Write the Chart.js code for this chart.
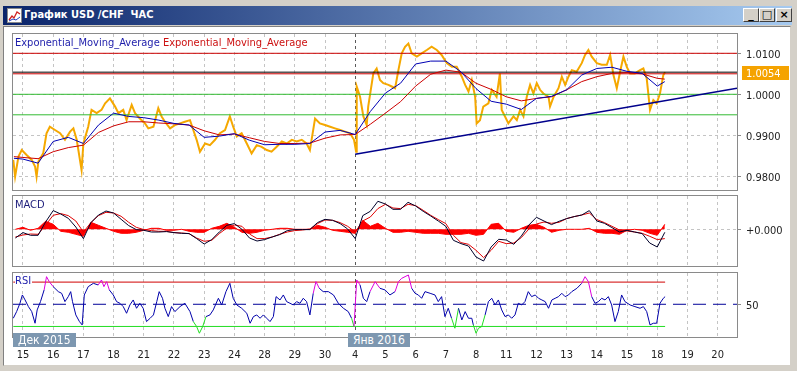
<!DOCTYPE html>
<html>
<head>
<meta charset="utf-8">
<script src="https://cdn.jsdelivr.net/npm/chart.js@4.4.1/dist/chart.umd.min.js"></script>
<style>
  body { margin: 0; width: 797px; height: 371px; overflow: hidden; background: #d4d0c8; position: relative;
         font-family: "DejaVu Sans Condensed", "DejaVu Sans", sans-serif; }
  #title { position: absolute; left: 3px; top: 6px; width: 789px; height: 19px;
           background: linear-gradient(to right, #0a246a, #a6caf0); }
  #icon { position: absolute; left: 4px; top: 2px; width: 15px; height: 15px; }
  #ttext { position: absolute; left: 21px; top: 2px; color: #fff; font-weight: bold; font-size: 11px; white-space: pre; }
  .btn { position: absolute; top: 2px; width: 16px; height: 14px; background: #d4d0c8; box-sizing: border-box;
         border: 1px solid; border-color: #fff #404040 #404040 #fff; font: bold 11px "DejaVu Sans", sans-serif;
         line-height: 11px; text-align: center; color: #000; }
  #client { position: absolute; left: 3px; top: 26px; width: 788px; height: 340px; background: #fff;
            box-sizing: border-box; border: 1px solid; border-color: #808080 #d4d0c8 #d4d0c8 #808080; }
  canvas { position: absolute; left: 0; top: 0; }
  .lbl { position: absolute; font-size: 11px; line-height: 12px; white-space: pre; background: #fff; padding-right: 1px; }
  .yr { position: absolute; top: 333px; height: 14px; background: #7d97b0; color: #fff; font-size: 12px;
        line-height: 14px; padding: 0 5px; }
</style>
</head>
<body>
<div id="title">
  <svg id="icon" viewBox="0 0 15 15"><rect x="0.5" y="0.5" width="14" height="14" fill="#fff" stroke="#8a8a8a"/>
    <polyline points="2,12 5,8 7,10 10,4 13,6" fill="none" stroke="#d02020" stroke-width="1.3"/>
    <polyline points="2,13 6,11 9,12 13,9" fill="none" stroke="#2040c0" stroke-width="1"/></svg>
  <div id="ttext">График USD /CHF  ЧАС</div>
  <div class="btn" style="left:740px">_</div>
  <div class="btn" style="left:756px">□</div>
  <div class="btn" style="left:773px">×</div>
</div>
<div id="client"></div>
<canvas id="main" width="797" height="371"></canvas>
<canvas id="macd" width="797" height="371"></canvas>
<canvas id="rsi" width="797" height="371"></canvas>
<div class="lbl" style="left:15px;top:37px"><span style="color:#1c1caa">Exponential_Moving_Average</span> <span style="color:#cc1111">Exponential_Moving_Average</span></div>
<div class="lbl" style="left:15px;top:199px;color:#1c1c7a">MACD</div>
<div class="lbl" style="left:15px;top:275px;color:#1c1caa">RSI</div>
<div class="yr" style="left:13px">Дек 2015</div>
<div class="yr" style="left:348px">Янв 2016</div>
<script>
// дни на оси X (индекс = торговый день)
const dayLabels = ['15', '16', '17', '18', '21', '22', '23', '24', '28', '29', '30', '4', '5', '6', '7', '8', '11', '12', '13', '14', '15', '18', '19', '20'];
const yearBreak = 11;

// цена USD/CHF (часовой график)
const priceX = [-0.32, -0.26, -0.15, -0.04, 0.12, 0.29, 0.40, 0.45, 0.51, 0.67, 0.78, 0.89, 1.06, 1.23, 1.39, 1.56, 1.67, 1.78, 1.94, 2.00,
  2.16, 2.27, 2.44, 2.60, 2.72, 2.88, 3.05, 3.16, 3.32, 3.43, 3.60, 3.71, 3.87, 4.04, 4.15, 4.32, 4.48, 4.59, 4.70, 4.87,
  5.03, 5.20, 5.36, 5.53, 5.64, 5.75, 5.86, 6.03, 6.19, 6.36, 6.52, 6.69, 6.85, 6.96, 7.08, 7.24, 7.41, 7.57, 7.74, 7.90,
  8.07, 8.23, 8.40, 8.57, 8.73, 8.90, 9.06, 9.23, 9.39, 9.50, 9.67, 9.83, 10.00, 10.17, 10.33, 10.50, 10.66, 10.83, 10.96, 11.03,
  11.05, 11.16, 11.27, 11.38, 11.43, 11.60, 11.71, 11.82, 11.93, 12.10, 12.21, 12.32, 12.43, 12.54, 12.65, 12.76, 12.87, 13.04, 13.20, 13.37,
  13.53, 13.70, 13.86, 14.03, 14.20, 14.36, 14.53, 14.64, 14.75, 14.86, 14.97, 15.02, 15.13, 15.24, 15.41, 15.52, 15.68, 15.79, 15.85, 15.96,
  16.07, 16.24, 16.35, 16.46, 16.57, 16.68, 16.79, 16.90, 17.01, 17.12, 17.23, 17.40, 17.45, 17.57, 17.73, 17.84, 17.95, 18.06, 18.17, 18.33,
  18.50, 18.61, 18.72, 18.83, 19.00, 19.16, 19.33, 19.44, 19.55, 19.66, 19.77, 19.88, 19.99, 20.10, 20.26, 20.43, 20.54, 20.65, 20.76, 20.87,
  20.98, 21.09, 21.20, 21.26];
const price = [0.9840, 0.9799, 0.9848, 0.9864, 0.9852, 0.9840, 0.9824, 0.9799, 0.9836, 0.9856, 0.9905, 0.9921, 0.9913, 0.9905, 0.9889, 0.9909, 0.9917, 0.9889, 0.9815, 0.9880,
  0.9921, 0.9962, 0.9954, 0.9962, 0.9978, 0.9990, 0.9970, 0.9954, 0.9962, 0.9937, 0.9974, 0.9954, 0.9941, 0.9929, 0.9917, 0.9921, 0.9966, 0.9946, 0.9933, 0.9917,
  0.9925, 0.9929, 0.9933, 0.9937, 0.9913, 0.9889, 0.9860, 0.9880, 0.9876, 0.9889, 0.9905, 0.9913, 0.9946, 0.9921, 0.9897, 0.9905, 0.9880, 0.9856, 0.9876, 0.9872,
  0.9864, 0.9860, 0.9872, 0.9885, 0.9880, 0.9889, 0.9885, 0.9889, 0.9880, 0.9864, 0.9941, 0.9929, 0.9925, 0.9921, 0.9917, 0.9913, 0.9909, 0.9905, 0.9889, 0.9860,
  1.0019, 0.9994, 0.9946, 0.9925, 0.9970, 1.0051, 1.0063, 1.0035, 1.0027, 1.0023, 1.0019, 1.0015, 1.0059, 1.0100, 1.0116, 1.0124, 1.0100, 1.0092, 1.0100, 1.0108,
  1.0116, 1.0108, 1.0096, 1.0076, 1.0067, 1.0067, 1.0043, 1.0023, 1.0007, 1.0035, 0.9994, 0.9929, 0.9937, 0.9970, 0.9978, 1.0011, 0.9994, 1.0051, 0.9962, 0.9946,
  0.9929, 0.9946, 0.9937, 0.9962, 0.9946, 0.9994, 1.0023, 1.0002, 1.0027, 1.0011, 1.0002, 0.9994, 0.9970, 0.9994, 1.0015, 1.0043, 1.0023, 1.0043, 1.0059, 1.0055,
  1.0076, 1.0096, 1.0108, 1.0092, 1.0076, 1.0072, 1.0072, 1.0096, 1.0047, 1.0015, 1.0055, 1.0092, 1.0067, 1.0051, 1.0051, 1.0059, 1.0063, 1.0039, 0.9962, 0.9986,
  0.9978, 1.0002, 1.0047, 1.0054];

// две EMA (быстрая синяя, медленная красная)
const emaX = [-0.3, 0, 0.5, 1, 1.5, 2, 2.5, 3, 3.5, 4, 4.5, 5, 5.5, 6, 6.5, 7, 7.5, 8, 8.5, 9, 9.5, 10, 10.5, 11, 11.5,
  12, 12.5, 13, 13.5, 14, 14.5, 15, 15.5, 16, 16.5, 17, 17.5, 18, 18.5, 19, 19.5, 20, 20.5, 21, 21.25];
const emaFast = [0.9844, 0.9842, 0.9832, 0.9885, 0.9895, 0.9880, 0.9925, 0.9954, 0.9946, 0.9943, 0.9937, 0.9929, 0.9925, 0.9895, 0.9898,
  0.9904, 0.9888, 0.9877, 0.9878, 0.9878, 0.9880, 0.9908, 0.9912, 0.9902, 0.9958, 1.0003, 1.0027, 1.0074, 1.0081, 1.0081,
  1.0055, 1.0014, 0.9983, 0.9976, 0.9963, 0.9990, 0.9995, 1.0011, 1.0047, 1.0063, 1.0066, 1.0056, 1.0051, 1.0020, 1.0031];
const emaSlow = [0.9848, 0.9846, 0.9843, 0.9860, 0.9870, 0.9876, 0.9907, 0.9923, 0.9933, 0.9933, 0.9930, 0.9928, 0.9925, 0.9911, 0.9901,
  0.9903, 0.9894, 0.9885, 0.9880, 0.9880, 0.9881, 0.9893, 0.9901, 0.9902, 0.9927, 0.9954, 0.9982, 1.0020, 1.0049, 1.0059,
  1.0054, 1.0027, 1.0012, 0.9994, 0.9984, 0.9990, 0.9994, 1.0011, 1.0031, 1.0043, 1.0051, 1.0053, 1.0050, 1.0039, 1.0037];

// горизонтальные уровни и линия тренда
const levels = [1.0100, 1.0054, 1.0050, 1.0000, 0.9950];
const levelColors = ['#cc0000', '#000000', '#cc0000', '#33bb33', '#33bb33'];
const trendX = [11.0, 23.64];
const trendY = [0.9854, 1.0015];
const priceTicks = [0.98, 0.99, 1.00, 1.01];

// MACD (шаг 0.25 дня)
const macdX = Array.from({ length: 87 }, (_, i) => -0.25 + i * 0.25);
const macd = [-0.00087, -0.00033, -0.00060, -0.00060, 0.00073, 0.00187, 0.00153, 0.00110, 0.00023, -0.00093,
  0.00067, 0.00143, 0.00183, 0.00163, 0.00100, 0.00037, -0.00003, -0.00010, -0.00027, -0.00027,
  -0.00023, -0.00033, -0.00040, -0.00043, -0.00093, -0.00147, -0.00103, -0.00027, 0.00040, 0.00057,
  0, -0.00087, -0.00117, -0.00103, -0.00077, -0.00053, -0.00013, -0.00003, -0.00003, -0.00003,
  0.00067, 0.00100, 0.00090, 0.00057, 0.00003, -0.00093, 0.00137, 0.00180, 0.00280, 0.00253,
  0.00200, 0.00200, 0.00270, 0.00233, 0.00180, 0.00133, 0.00083, 0.00030, -0.00110, -0.00143,
  -0.00167, -0.00277, -0.00317, -0.00177, -0.00100, -0.00107, -0.00150, -0.00067, 0.00043, 0.00120,
  0.00083, 0.00047, 0.00080, 0.00107, 0.00127, 0.00143, 0.00187, 0.00083, 0.00060, 0.00017,
  -0.00027, -0.00010, -0.00027, -0.00043, -0.00137, -0.00177, -0.00030];
const signal = [-0.00077, -0.00057, -0.00047, -0.00050, 0.00043, 0.00140, 0.00157, 0.00137, 0.00083, -0.00027,
  0.00067, 0.00137, 0.00170, 0.00163, 0.00130, 0.00070, 0.00020, -0.00003, -0.00013, -0.00020,
  -0.00020, -0.00033, -0.00037, -0.00043, -0.00087, -0.00120, -0.00110, -0.00043, 0.00013, 0.00043,
  0.00030, -0.00047, -0.00093, -0.00093, -0.00077, -0.00050, -0.00027, -0.00013, -0.00007, 0.00003,
  0.00057, 0.00093, 0.00090, 0.00067, 0.00030, -0.00027, 0.00083, 0.00123, 0.00207, 0.00250,
  0.00213, 0.00207, 0.00250, 0.00237, 0.00190, 0.00140, 0.00097, 0.00057, -0.00060, -0.00133,
  -0.00150, -0.00210, -0.00283, -0.00210, -0.00120, -0.00143, -0.00137, -0.00083, 0.00003, 0.00053,
  0.00073, 0.00060, 0.00070, 0.00107, 0.00127, 0.00143, 0.00163, 0.00097, 0.00067, 0.00030,
  -0.00007, -0.00017, -0.00027, -0.00040, -0.00070, -0.00103, -0.00093];
const hist = [0, 0.0002, -0.0001, 0.0001, 0.0008, 0.0005, -0.0002, -0.0003, -0.0005, -0.0007,
  0.0007, 0.0004, 0.0001, -0.0002, -0.0004, -0.0004, -0.0003, -0.0001, 0.0001, 0.0001,
  -0.0001, -0.0001, 0, -0.0002, -0.0003, -0.0003, 0.0001, 0.0003, 0.0006, 0.0002,
  -0.0003, -0.0004, -0.0003, -0.0001, 0, 0.0001, 0.0001, 0, 0, 0,
  0.0004, 0.0002, -0.0001, -0.0002, -0.0003, -0.0004, 0.0009, 0.0003, 0.0006, 0.0001,
  -0.0003, -0.0003, -0.0002, -0.0003, -0.0004, -0.0004, -0.0004, -0.0005, -0.0005, -0.0005,
  -0.0004, -0.0006, -0.0005, 0.0005, 0.0006, -0.0002, -0.0003, 0.0001, 0.0004, 0.0005,
  0.0002, -0.0003, -0.0001, 0, 0, 0, 0.0001, -0.0003, -0.0004, -0.0004,
  -0.0005, -0.0001, 0, -0.0001, -0.0004, -0.0006, 0.0005];

// RSI
const rsiX = [-0.32, -0.21, -0.10, -0.02, 0.07, 0.18, 0.29, 0.40, 0.47, 0.58, 0.70, 0.78, 0.87, 1.00, 1.17, 1.28, 1.39, 1.50, 1.58, 1.64,
  1.75, 1.87, 1.96, 2.03, 2.16, 2.33, 2.49, 2.60, 2.68, 2.77, 2.86, 2.99, 3.10, 3.21, 3.32, 3.43, 3.54, 3.65, 3.76, 3.87,
  3.98, 4.09, 4.21, 4.32, 4.43, 4.51, 4.62, 4.70, 4.81, 4.92, 5.03, 5.20, 5.36, 5.53, 5.64, 5.75, 5.84, 5.95, 6.06, 6.19,
  6.30, 6.47, 6.58, 6.72, 6.85, 6.96, 7.08, 7.24, 7.41, 7.52, 7.63, 7.74, 7.85, 7.96, 8.07, 8.18, 8.29, 8.38, 8.51, 8.62,
  8.73, 8.84, 8.95, 9.06, 9.17, 9.28, 9.39, 9.50, 9.61, 9.70, 9.81, 9.94, 10.11, 10.28, 10.44, 10.61, 10.77, 10.88, 10.96, 11.05,
  11.16, 11.27, 11.38, 11.49, 11.66, 11.82, 11.99, 12.15, 12.32, 12.43, 12.54, 12.65, 12.76, 12.87, 12.98, 13.09, 13.20, 13.31, 13.48, 13.64,
  13.75, 13.86, 13.97, 14.08, 14.19, 14.30, 14.42, 14.53, 14.64, 14.75, 14.86, 14.91, 15.00, 15.08, 15.19, 15.30, 15.41, 15.52, 15.63, 15.74,
  15.85, 15.96, 16.07, 16.18, 16.29, 16.40, 16.51, 16.62, 16.73, 16.84, 16.96, 17.07, 17.18, 17.29, 17.40, 17.51, 17.62, 17.73, 17.84, 17.95,
  18.06, 18.17, 18.34, 18.50, 18.61, 18.72, 18.83, 18.94, 19.05, 19.16, 19.27, 19.38, 19.49, 19.60, 19.71, 19.82, 19.93, 20.10, 20.26, 20.43,
  20.54, 20.65, 20.76, 20.87, 20.98, 21.09, 21.20, 21.26];
const rsi = [37.4, 43.4, 50.9, 58.4, 53.9, 47.9, 43.4, 32.9, 44.9, 52.4, 62.9, 74.9, 70.4, 65.9, 61.4, 59.9, 52.4, 56.9, 61.4, 52.4,
  40.4, 34.4, 31.4, 58.4, 65.9, 68.9, 67.4, 71.9, 65.9, 70.4, 62.9, 58.4, 52.4, 50.9, 47.9, 41.9, 49.4, 53.9, 46.4, 50.9,
  46.4, 34.4, 37.4, 40.4, 52.4, 61.4, 55.4, 46.4, 38.9, 47.9, 43.4, 47.9, 50.9, 43.4, 34.4, 29.9, 23.9, 29.9, 38.9, 40.4,
  44.9, 55.4, 49.4, 61.4, 68.9, 55.4, 49.4, 46.4, 41.9, 32.9, 38.9, 40.4, 37.4, 40.4, 37.4, 34.4, 38.9, 56.9, 53.9, 58.4,
  52.4, 50.9, 49.4, 52.4, 50.9, 55.4, 52.4, 40.4, 59.9, 70.4, 64.4, 61.4, 61.4, 58.4, 50.9, 46.4, 43.4, 37.4, 29.9, 71.9,
  67.4, 55.4, 52.4, 61.4, 70.4, 64.4, 62.9, 58.4, 61.4, 70.4, 73.4, 74.9, 76.4, 64.4, 59.9, 58.4, 55.4, 61.4, 59.9, 58.4,
  52.4, 56.9, 38.9, 46.4, 37.4, 28.4, 46.4, 35.9, 43.4, 37.4, 37.4, 31.4, 23.9, 28.4, 29.9, 40.4, 52.4, 55.4, 49.4, 53.9,
  44.9, 38.9, 40.4, 37.4, 40.4, 50.9, 49.4, 52.4, 61.4, 56.9, 58.4, 55.4, 53.9, 52.4, 46.4, 53.9, 55.4, 56.9, 59.9, 56.9,
  58.4, 61.4, 64.4, 68.9, 74.9, 70.4, 56.9, 50.9, 52.4, 55.4, 53.9, 56.9, 49.4, 34.4, 43.4, 58.4, 52.4, 49.4, 47.9, 46.4,
  47.9, 43.4, 31.4, 32.9, 32.9, 50.9, 55.4, 56.9];
const rsiLevels = [70, 50, 30];

const X_MIN = -0.33, X_MAX = 23.64;
const FONT = '"DejaVu Sans Condensed", "DejaVu Sans", sans-serif';
Chart.defaults.font.family = FONT;
Chart.defaults.font.size = 11;
Chart.defaults.color = '#222';

const pts = (xs, ys) => xs.map((x, i) => ({ x: x, y: ys[i] }));
const flat = (v, x0, x1) => [{ x: x0, y: v }, { x: x1, y: v }];

// рамка вокруг области графика
const frame = {
  id: 'frame',
  afterDraw(c) {
    const a = c.chartArea, g = c.ctx;
    g.save();
    g.strokeStyle = '#8a8a8a';
    g.lineWidth = 1;
    g.strokeRect(Math.round(a.left) - 0.5, Math.round(a.top) - 0.5, Math.round(a.right - a.left) + 1, Math.round(a.bottom - a.top) + 1);
    g.restore();
  }
};

// оранжевая метка текущей цены
const priceTag = {
  id: 'priceTag',
  afterDraw(c) {
    const last = price[price.length - 1];
    const y = Math.round(c.scales.y.getPixelForValue(last));
    const g = c.ctx;
    g.save();
    g.fillStyle = '#f5a300';
    g.fillRect(c.chartArea.right + 5, y - 6, 47, 14);
    g.fillStyle = '#fff';
    g.font = '11px ' + FONT;
    g.textBaseline = 'middle';
    g.fillText(last.toFixed(4), c.chartArea.right + 9, y + 2);
    g.restore();
  }
};

function xAxis(withLabels) {
  return {
    type: 'linear', min: X_MIN, max: X_MAX,
    afterBuildTicks: s => { s.ticks = dayLabels.map((_, i) => ({ value: i })); },
    afterFit: s => { s.height = withLabels ? 25 : 0; },
    grid: { color: c => (c.tick && c.tick.value === yearBreak) ? '#5a5a5a' : '#c4c4c4', drawTicks: false },
    border: { display: false, dash: [3, 3] },
    ticks: { display: withLabels, padding: 12, maxRotation: 0, autoSkip: false, callback: v => dayLabels[v] }
  };
}

function yAxis(min, max, ticks, fmt, grid) {
  return {
    position: 'right', min: min, max: max,
    afterBuildTicks: s => { s.ticks = ticks.map(v => ({ value: v })); },
    afterFit: s => { s.width = 60; },
    grid: { color: '#c4c4c4', drawOnChartArea: grid, tickLength: 4, tickColor: '#8a8a8a' },
    border: { display: false, dash: [3, 3] },
    ticks: { padding: 5, labelOffset: 2, callback: fmt }
  };
}

const base = {
  responsive: false, animation: false, events: [], devicePixelRatio: 1,
  elements: { point: { radius: 0 }, line: { borderWidth: 1, tension: 0 } },
  plugins: { legend: { display: false }, tooltip: { enabled: false } }
};

// основная панель
new Chart(document.getElementById('main'), {
  type: 'line',
  data: {
    datasets: [
      { data: pts(emaX, emaFast), borderColor: '#0000b4', order: 1 },
      { data: pts(emaX, emaSlow), borderColor: '#cc0000', order: 1 },
      { data: pts(trendX, trendY), borderColor: '#00008c', borderWidth: 1.5, order: 2 },
      ...levels.map((v, i) => ({ data: flat(v, X_MIN, X_MAX), borderColor: levelColors[i], order: 3 })),
      { data: pts(priceX, price), borderColor: '#f5a800', borderWidth: 2, order: 4 }
    ]
  },
  options: {
    ...base,
    layout: { padding: { left: 13, top: 34, right: 0, bottom: 181 } },
    scales: { x: xAxis(false), y: yAxis(0.97666, 1.01471, priceTicks, v => v.toFixed(4), true) }
  },
  plugins: [frame, priceTag]
});

// MACD
new Chart(document.getElementById('macd'), {
  type: 'line',
  data: {
    datasets: [
      { data: pts(macdX, macd), borderColor: '#00002a', order: 1 },
      { data: pts(macdX, signal), borderColor: '#e00000', order: 2 },
      { data: pts(macdX, hist), borderColor: '#ff0000', backgroundColor: '#ff0000', fill: 'origin', order: 3 }
    ]
  },
  options: {
    ...base,
    layout: { padding: { left: 13, top: 196, right: 0, bottom: 105 } },
    scales: { x: xAxis(false), y: yAxis(-0.00367, 0.00333, [0], () => '+0.000', true) }
  },
  plugins: [frame]
});

// RSI
const rsiColor = ctx => {
  const a = ctx.p0.parsed.y, b = ctx.p1.parsed.y;
  if (a > 70 || b > 70) return '#dd00dd';
  if (a < 30 || b < 30) return '#22dd22';
  return undefined;
};
new Chart(document.getElementById('rsi'), {
  type: 'line',
  data: {
    datasets: [
      { data: pts(rsiX, rsi), borderColor: '#0000aa', segment: { borderColor: rsiColor }, order: 1 },
      { data: flat(rsiLevels[0], rsiX[0], rsiX[rsiX.length - 1]), borderColor: '#d00000', order: 2 },
      { data: flat(rsiLevels[1], X_MIN, X_MAX), borderColor: '#000099', borderDash: [13, 7], order: 2 },
      { data: flat(rsiLevels[2], rsiX[0], rsiX[rsiX.length - 1]), borderColor: '#22dd22', order: 2 }
    ]
  },
  options: {
    ...base,
    layout: { padding: { left: 13, top: 273, right: 0, bottom: 9 } },
    scales: { x: xAxis(true), y: yAxis(20.5, 78.2, [50], v => String(v), false) }
  },
  plugins: [frame]
});
</script>
</body>
</html>
